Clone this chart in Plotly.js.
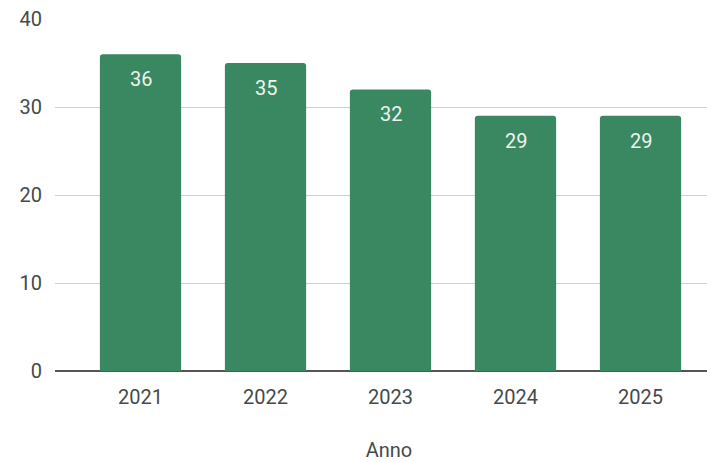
<!DOCTYPE html>
<html>
<head>
<meta charset="utf-8">
<script src="https://cdn.plot.ly/plotly-3.0.1.min.js"></script>
<style>html,body{margin:0;padding:0;background:#fff;overflow:hidden;width:707px;height:462px;}#wrap{width:707px;height:462px;overflow:hidden;}#chart{width:723px;height:462px;}</style>
</head>
<body>
<div id="wrap"><div id="chart"></div></div>
<script>
const years = ['2021', '2022', '2023', '2024', '2025'];
const values = [36, 35, 32, 29, 29];
const yTicks = [0, 10, 20, 30, 40];

const barColor = '#398861';
const fontFamily = 'Roboto, Arial, sans-serif';

const trace = {
  type: 'bar',
  x: years,
  y: values,
  marker: { color: barColor, cornerradius: 3 },
  width: 0.65,
  hoverinfo: 'none'
};

const annotations = values.map((v, i) => ({
  x: i,
  y: v,
  xref: 'x',
  yref: 'y',
  text: String(v),
  showarrow: false,
  yanchor: 'top',
  yshift: -11,
  font: { family: fontFamily, size: 20, color: '#eef3ef' }
}));

const layout = {
  width: 723,
  height: 462,
  margin: { l: 55, r: 0, t: 19, b: 91 },
  paper_bgcolor: '#ffffff',
  plot_bgcolor: '#ffffff',
  showlegend: false,
  font: { family: fontFamily, size: 20, color: '#454a4a' },
  xaxis: {
    type: 'category',
    range: [-0.684, 4.66],
    showgrid: false,
    showline: false,
    zeroline: false,
    ticks: '',
    ticklabelstandoff: 12,
    tickfont: { family: fontFamily, size: 20, color: '#454a4a' },
    title: { text: 'Anno', font: { family: fontFamily, size: 20, color: '#454a4a' }, standoff: 44 },
    fixedrange: true
  },
  yaxis: {
    range: [0, 40],
    tickvals: yTicks,
    ticktext: yTicks.map(String),
    showgrid: true,
    gridcolor: '#d0d0d0',
    gridwidth: 1,
    zeroline: true,
    zerolinecolor: '#555555',
    zerolinewidth: 2,
    showline: false,
    ticks: '',
    ticklabelstandoff: 12,
    tickfont: { family: fontFamily, size: 20, color: '#454a4a' },
    fixedrange: true
  },
  annotations: annotations
};

Plotly.newPlot('chart', [trace], layout, { staticPlot: true, displayModeBar: false });
</script>
</body>
</html>
